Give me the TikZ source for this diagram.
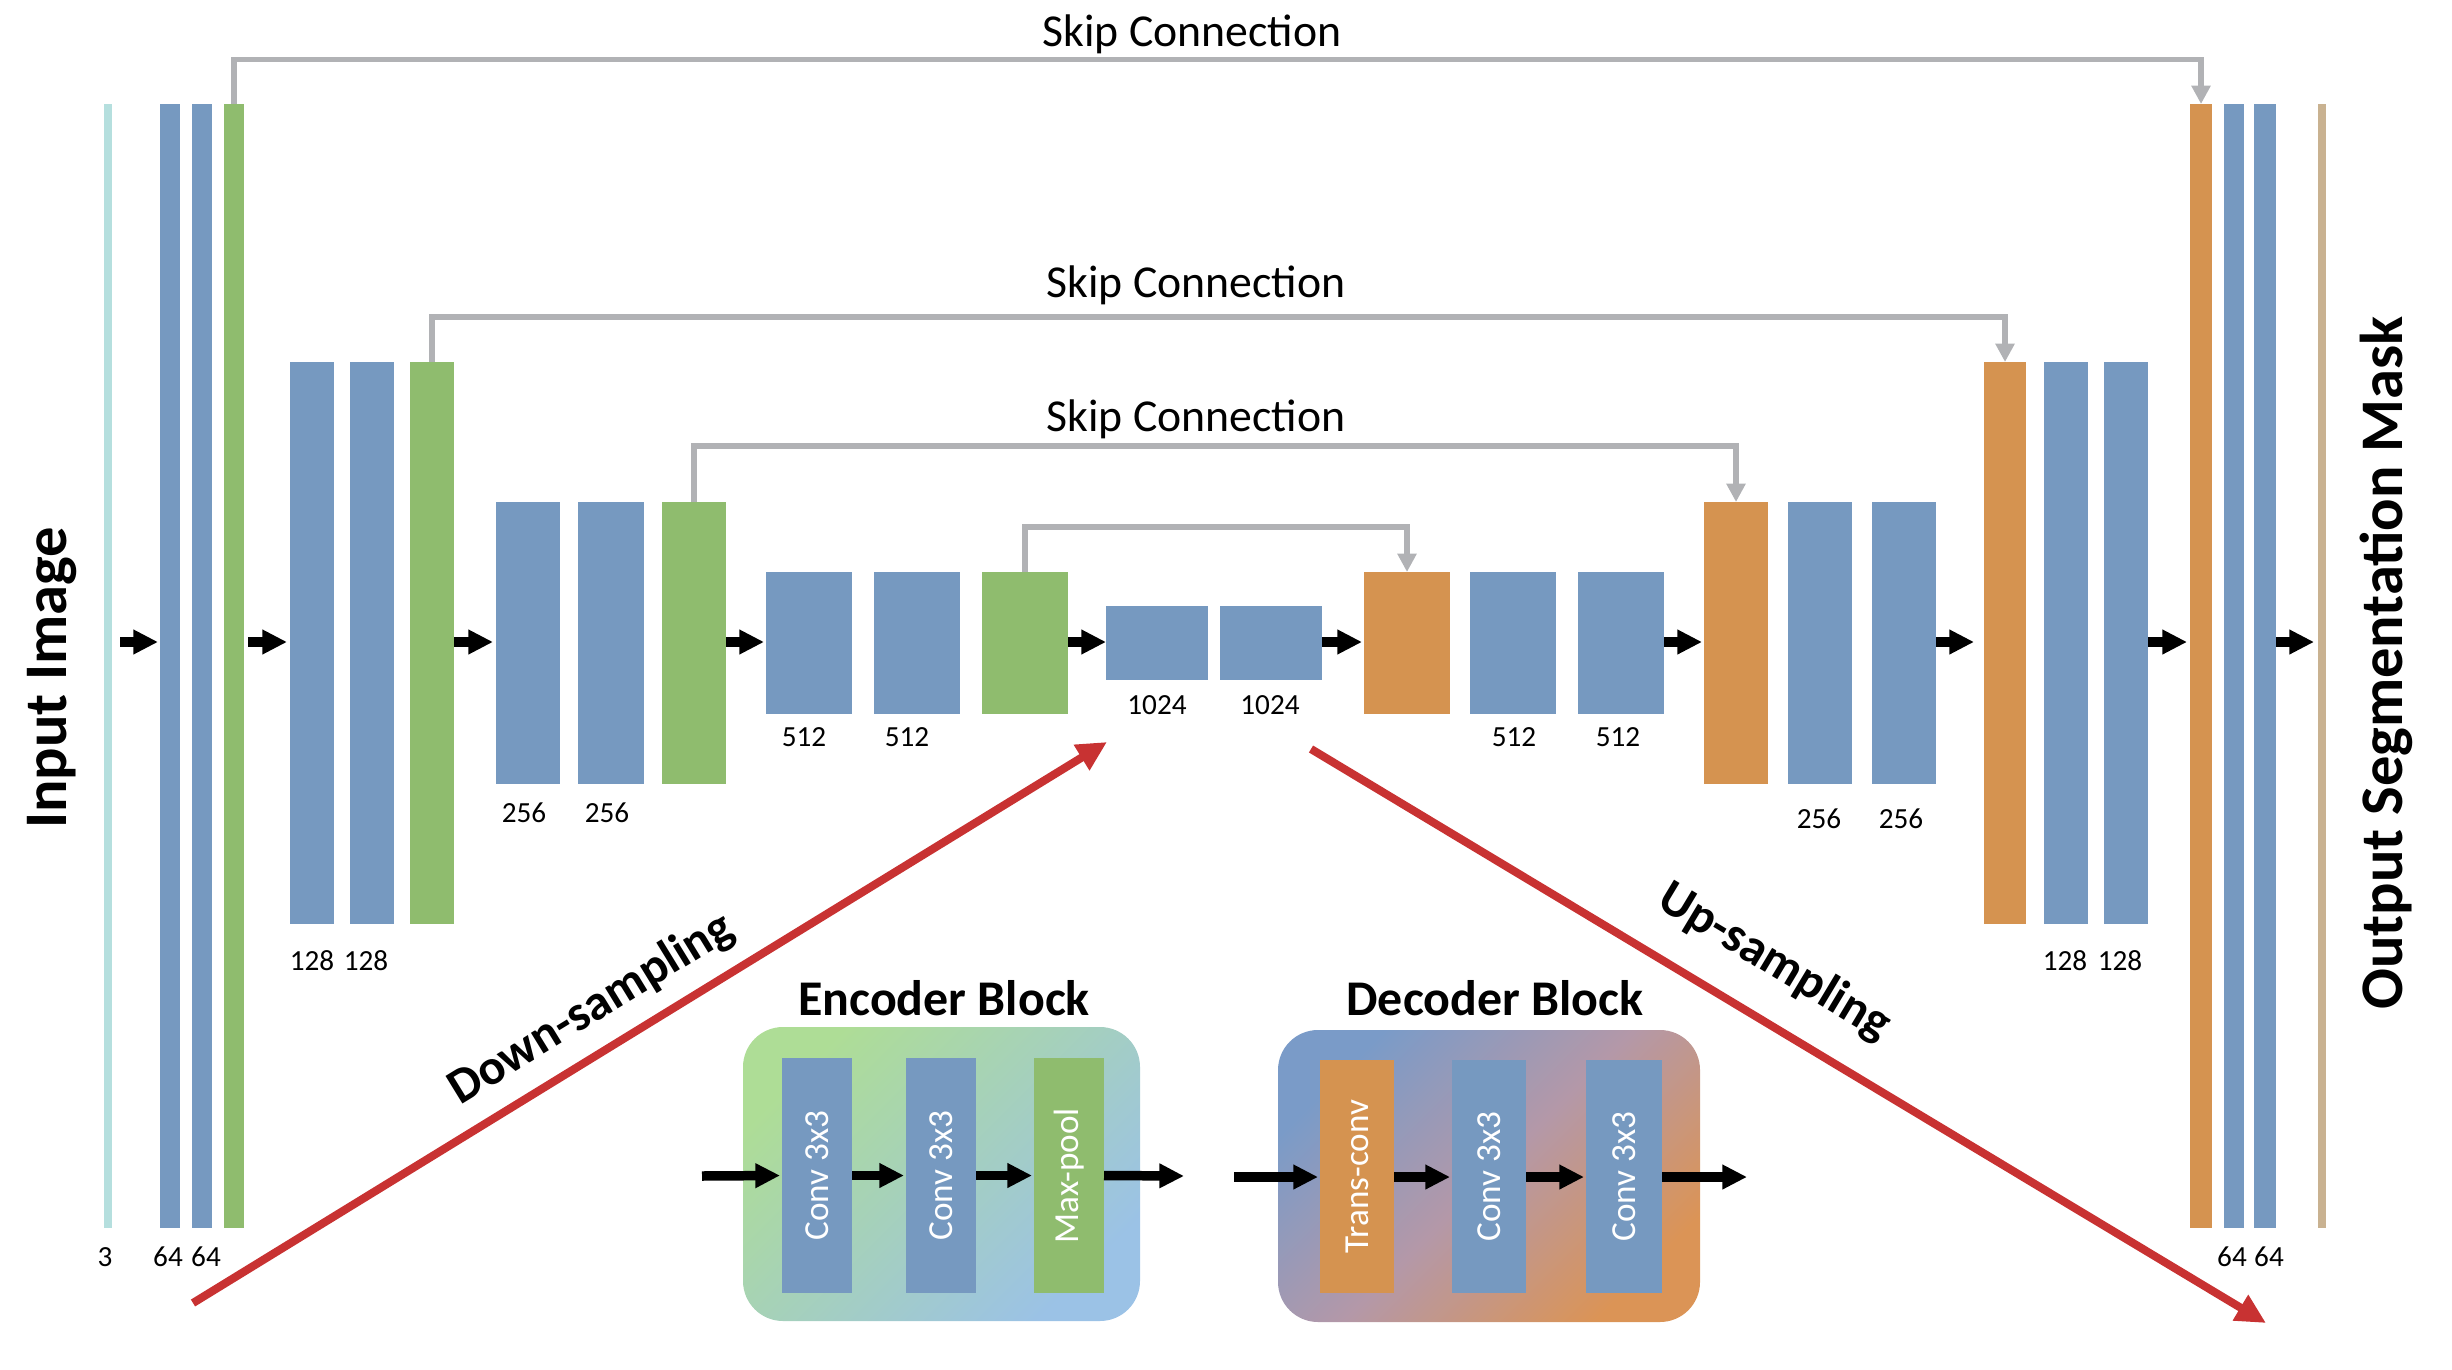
\documentclass[tikz,border=0pt]{standalone}
\usepackage{fontspec}
\setmainfont{Carlito}
\usetikzlibrary{arrows.meta,fit}
\definecolor{cblue}{RGB}{118,153,192}
\definecolor{cgreen}{RGB}{143,188,110}
\definecolor{corange}{RGB}{213,147,80}
\definecolor{cinput}{RGB}{181,223,222}
\definecolor{coutput}{RGB}{201,178,145}
\definecolor{cgray}{RGB}{177,178,181}
\definecolor{cred}{RGB}{200,50,50}
\definecolor{encA}{RGB}{174,221,150}
\definecolor{encB}{RGB}{155,194,230}
\definecolor{decA}{RGB}{122,155,200}
\definecolor{decM}{RGB}{180,152,168}
\definecolor{decB}{RGB}{219,148,86}
\newcommand{\ubar}[6]{\node[barbox, fill=#6, fit={(#2,#3) (#4,#5)}] (#1) {};}
\begin{document}
\begin{tikzpicture}[x=0.01cm, y=-0.01cm,
  barbox/.style={draw=none, inner sep=0pt, outer sep=0pt},
  num/.style={font=\fontsize{8.3}{10}\selectfont, inner sep=0pt},
  skipline/.style={draw=cgray, line width=1.6pt, -{Triangle[length=5.2pt,width=5.2pt]}},
  skiplabel/.style={font=\fontsize{13}{15}\selectfont, anchor=base, inner sep=0pt},
  flow/.style={draw=black, line width=2.7pt, -{Triangle[length=7pt,width=6.6pt]}, shorten >=0.02cm},
  sidetitle/.style={font=\bfseries\fontsize{17.2}{20}\selectfont, rotate=90, anchor=base, inner sep=0pt},
  blocktitle/.style={font=\bfseries\fontsize{14.2}{17}\selectfont, anchor=base, inner sep=0pt},
  blocktext/.style={font=\fontsize{10}{12}\selectfont, text=white, rotate=90, inner sep=0pt},
  redarrow/.style={draw=cred, line width=2.3pt, -{Triangle[length=8.5pt,width=8pt]}},
  slopelabel/.style={font=\bfseries\fontsize{14.2}{17}\selectfont, sloped, inner sep=0pt},
  encbox/.style={draw=none, inner sep=0pt, rounded corners=0.4cm, top color=encA, bottom color=encB, shading angle=45},
  decbox/.style={draw=none, inner sep=0pt, rounded corners=0.4cm, top color=decA, bottom color=decB, middle color=decM, shading angle=45},
]
\useasboundingbox (0,0) rectangle (2452,1370);
\coordinate (row) at (0,642);

% ---- encoder path bars ----
\ubar{inp}{104}{104}{112}{1228}{cinput}
\ubar{e11}{160}{104}{180}{1228}{cblue}
\ubar{e12}{192}{104}{212}{1228}{cblue}
\ubar{e13}{224}{104}{244}{1228}{cgreen}
\ubar{e21}{290}{362}{334}{924}{cblue}
\ubar{e22}{350}{362}{394}{924}{cblue}
\ubar{e23}{410}{362}{454}{924}{cgreen}
\ubar{e31}{496}{502}{560}{784}{cblue}
\ubar{e32}{578}{502}{644}{784}{cblue}
\ubar{e33}{662}{502}{726}{784}{cgreen}
\ubar{e41}{766}{572}{852}{714}{cblue}
\ubar{e42}{874}{572}{960}{714}{cblue}
\ubar{e43}{982}{572}{1068}{714}{cgreen}
% ---- bottleneck ----
\ubar{b1}{1106}{606}{1208}{680}{cblue}
\ubar{b2}{1220}{606}{1322}{680}{cblue}
% ---- decoder path bars ----
\ubar{d41}{1364}{572}{1450}{714}{corange}
\ubar{d42}{1470}{572}{1556}{714}{cblue}
\ubar{d43}{1578}{572}{1664}{714}{cblue}
\ubar{d31}{1704}{502}{1768}{784}{corange}
\ubar{d32}{1788}{502}{1852}{784}{cblue}
\ubar{d33}{1872}{502}{1936}{784}{cblue}
\ubar{d21}{1984}{362}{2026}{924}{corange}
\ubar{d22}{2044}{362}{2088}{924}{cblue}
\ubar{d23}{2104}{362}{2148}{924}{cblue}
\ubar{d11}{2190}{104}{2212}{1228}{corange}
\ubar{d12}{2224}{104}{2244}{1228}{cblue}
\ubar{d13}{2254}{104}{2276}{1228}{cblue}
\ubar{outp}{2318}{104}{2326}{1228}{coutput}

% ---- flow arrows ----
\draw[flow, shorten <=0.08cm] (inp.east |- row) -- (e11.west |- row);
\draw[flow, shorten <=0.04cm, shorten >=0.03cm] (e13.east |- row) -- (e21.west |- row);
\draw[flow, shorten >=0.03cm] (e23.east |- row) -- (e31.west |- row);
\draw[flow] (e33.east |- row) -- (e41.west |- row);
\draw[flow, shorten >=0pt] (e43.east |- row) -- (b1.west |- row);
\draw[flow] (b2.east |- row) -- (d41.west |- row);
\draw[flow] (d43.east |- row) -- (d31.west |- row);
\draw[flow, shorten >=0.1cm] (d33.east |- row) -- (d21.west |- row);
\draw[flow, shorten >=0.03cm] (d23.east |- row) -- (d11.west |- row);
\draw[flow, shorten >=0.04cm] (d13.east |- row) -- (outp.west |- row);

% ---- skip connections ----
\coordinate (s1) at (1200,59.5);
\coordinate (s2) at (1200,317);
\coordinate (s3) at (1200,446);
\coordinate (s4) at (1200,527);
\draw[skipline] (e13.north) |- (s1) -| (d11.north);
\draw[skipline] (e23.north) |- (s2) -| (d21.north);
\draw[skipline] (e33.north) |- (s3) -| (d31.north);
\draw[skipline] (e43.north) |- (s4) -| (d41.north);
\node[skiplabel] (sl1) at (1192,46.7) {Skip Connection};
\node[skiplabel] (sl2) at (1196,297.7) {Skip Connection};
\node[skiplabel] (sl3) at (1196,431.7) {Skip Connection};

% ---- channel numbers ----
\node[num] (n01) at (105,1257) {3};
\node[num] (n02) at (168,1257) {64};
\node[num] (n03) at (206,1257) {64};
\node[num] (n04) at (312,961) {128};
\node[num] (n05) at (366,961) {128};
\node[num] (n06) at (524,813) {256};
\node[num] (n07) at (607,813) {256};
\node[num] (n08) at (804,737) {512};
\node[num] (n09) at (907,737) {512};
\node[num] (n10) at (1157,705) {1024};
\node[num] (n11) at (1270,705) {1024};
\node[num] (n12) at (1514,737) {512};
\node[num] (n13) at (1618,737) {512};
\node[num] (n14) at (1819,819) {256};
\node[num] (n15) at (1901,819) {256};
\node[num] (n16) at (2065,961) {128};
\node[num] (n17) at (2120,961) {128};
\node[num] (n18) at (2232,1257) {64};
\node[num] (n19) at (2269,1257) {64};

% ---- side titles ----
\node[sidetitle] (tin) at (66,678) {Input Image};
\node[sidetitle] (tout) at (2402,663) {Output Segmentation Mask};

% ---- down / up sampling ----
\coordinate (ds0) at (193,1303);
\coordinate (ds1) at (1107,742);
\coordinate (us0) at (1311,749);
\coordinate (us1) at (2266,1323);
\draw[redarrow] (ds0) -- (ds1) node[slopelabel, pos=0.46, above=0.16cm] (dsl) {Down-sampling};
\draw[redarrow] (us0) -- (us1) node[slopelabel, pos=0.455, above=0.30cm] (usl) {Up-sampling};

% ---- encoder block ----
\node[encbox, fit={(743,1027) (1140,1321)}] (enc) {};
\node[blocktitle] (enct) at (944,1015) {Encoder Block};
\ubar{ec1}{782}{1058}{852}{1293}{cblue}
\ubar{ec2}{906}{1058}{976}{1293}{cblue}
\ubar{ep}{1034}{1058}{1104}{1293}{cgreen}
\node[blocktext] (ec1t) at (ec1.center) {Conv 3x3};
\node[blocktext] (ec2t) at (ec2.center) {Conv 3x3};
\node[blocktext] (ept) at (ep.center) {Max-pool};
\coordinate (encin) at (702,1176);
\coordinate (encout) at (1184,1176);
\draw[flow] (encin) -- (ec1.west);
\draw[flow] (ec1.east) -- (ec2.west);
\draw[flow] (ec2.east) -- (ep.west);
\draw[flow, shorten >=0pt] (ep.east) -- (encout);

% ---- decoder block ----
\node[decbox, fit={(1278,1030) (1700,1322)}] (dec) {};
\node[blocktitle] (dect) at (1495,1015) {Decoder Block};
\ubar{dt}{1320}{1060}{1394}{1293}{corange}
\ubar{dc1}{1452}{1060}{1526}{1293}{cblue}
\ubar{dc2}{1586}{1060}{1662}{1293}{cblue}
\node[blocktext] (dtt) at (dt.center) {Trans-conv};
\node[blocktext] (dc1t) at (dc1.center) {Conv 3x3};
\node[blocktext] (dc2t) at (dc2.center) {Conv 3x3};
\coordinate (decin) at (1234,1177);
\coordinate (decout) at (1747,1177);
\draw[flow] (decin) -- (dt.west |- decin);
\draw[flow] (dt.east |- decin) -- (dc1.west |- decin);
\draw[flow] (dc1.east |- decin) -- (dc2.west |- decin);
\draw[flow, shorten >=0pt] (dc2.east |- decin) -- (decout);
\end{tikzpicture}
\end{document}
